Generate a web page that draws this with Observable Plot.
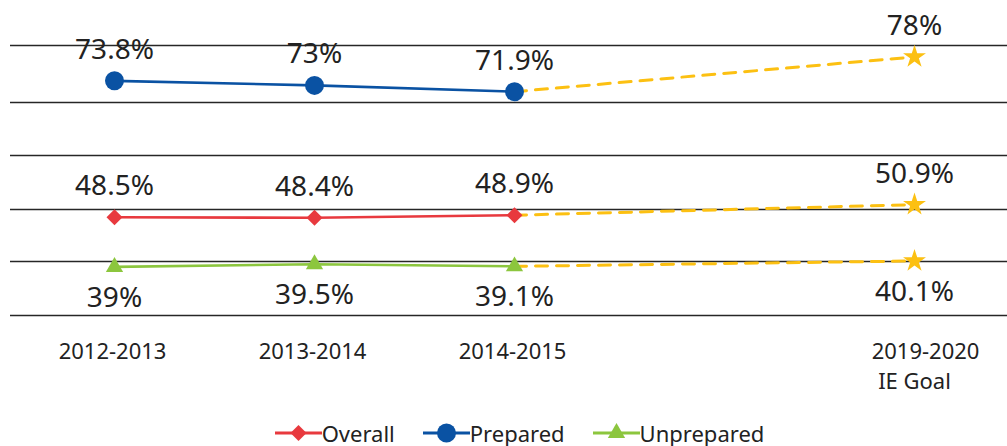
<!DOCTYPE html>
<html><head><meta charset="utf-8">
<script src="https://cdn.jsdelivr.net/npm/d3@7"></script>
<script src="https://cdn.jsdelivr.net/npm/@observablehq/plot@0.6"></script>
<style>
body{margin:0;background:#fff;font-family:"Noto Sans",sans-serif;}
#legend{display:flex;justify-content:center;align-items:center;height:46px;padding-left:32px;font-size:22px;color:#222;}
.item{display:flex;align-items:center;margin:0 14px;}
.item svg{display:block;}
</style></head><body>
<div id="chart"></div>
<div id="legend"></div>
<script>
// ---- data ----
const periods = ["2012-2013", "2013-2014", "2014-2015"];
const goalPeriod = "2019-2020";
const goalNote = "IE Goal";
const seriesNames = ["Overall", "Prepared", "Unprepared"];
const overall = [48.5, 48.4, 48.9];
const prepared = [73.8, 73, 71.9];
const unprepared = [39, 39.5, 39.1];
const goalOverall = 50.9;
const goalPrepared = 78;
const goalUnprepared = 40.1;
const gridValues = [30, 40, 50, 60, 70, 80];

// ---- styling ----
const goalColor = "#fcc012";
const textColor = "#222";
const styles = {
  Overall:    {color: "#e8393e", symbol: "diamond2", r: 7.2, labelDy: -22, anchor: "bottom", values: overall, goal: goalOverall},
  Prepared:   {color: "#0a52a3", symbol: "circle",   r: 9.5, labelDy: -22, anchor: "bottom", values: prepared, goal: goalPrepared},
  Unprepared: {color: "#8cc63e", symbol: "triangle", r: 6.4, labelDy: 40,  anchor: "bottom", values: unprepared, goal: goalUnprepared}
};

const xDomain = [...periods, " ", goalPeriod];
const fmt = v => `${v}%`;

const marks = [
  Plot.ruleY(gridValues, {stroke: "#262626", strokeWidth: 1.4})
];

for (const name of seriesNames) {
  const s = styles[name];
  const rows = periods.map((p, i) => ({period: p, value: s.values[i]}));
  const last = rows[rows.length - 1];
  const goalRow = {period: goalPeriod, value: s.goal};
  marks.push(
    Plot.line([last, goalRow], {x: "period", y: "value", stroke: goalColor, strokeWidth: 3, strokeDasharray: "12,9"}),
    Plot.line(rows, {x: "period", y: "value", stroke: s.color, strokeWidth: 2.6}),
    Plot.dot(rows, {x: "period", y: "value", symbol: s.symbol, r: s.r, fill: s.color, stroke: "none"}),
    Plot.dot([goalRow], {x: "period", y: "value", symbol: "star", r: 7.2, fill: goalColor, stroke: "none"}),
    Plot.text([...rows, goalRow], {x: "period", y: "value", text: d => fmt(d.value), dy: s.labelDy,
      lineAnchor: s.anchor, fontSize: 28, fill: textColor})
  );
}

// x labels
marks.push(
  Plot.text(periods, {x: d => d, frameAnchor: "bottom", lineAnchor: "top", dy: 28, dx: -2, fontSize: 22, fill: textColor}),
  Plot.text([goalPeriod], {x: d => d, frameAnchor: "bottom", lineAnchor: "top", dy: 28, dx: 11, fontSize: 22, fill: textColor}),
  Plot.text([goalNote], {x: () => goalPeriod, frameAnchor: "bottom", lineAnchor: "top", dy: 58, dx: 0, fontSize: 22, fill: textColor})
);

const chart = Plot.plot({
  width: 1007,
  height: 410,
  marginTop: 45,
  marginBottom: 95,
  marginLeft: 10,
  marginRight: 0,
  style: {fontFamily: "Noto Sans", background: "#fff"},
  x: {type: "point", domain: xDomain, range: [112, 915], padding: 0, axis: null},
  y: {type: "linear", domain: gridValues, range: [315, 261, 209, 155, 102, 45], axis: null},
  marks
});
document.getElementById("chart").appendChild(chart);

// legend
const legend = d3.select("#legend");
const symbolTypes = {diamond2: d3.symbolDiamond2, circle: d3.symbolCircle, triangle: d3.symbolTriangle};
for (const name of seriesNames) {
  const s = styles[name];
  const item = legend.append("div").attr("class", "item");
  const svg = item.append("svg").attr("width", 47).attr("height", 24);
  svg.append("line").attr("x1", 0).attr("x2", 47).attr("y1", 12).attr("y2", 12)
    .attr("stroke", s.color).attr("stroke-width", 3);
  svg.append("path").attr("transform", "translate(23.5,12)")
    .attr("d", d3.symbol(symbolTypes[s.symbol], Math.PI * s.r * s.r)())
    .attr("fill", s.color);
  item.append("span").text(name);
}
</script>
</body></html>
